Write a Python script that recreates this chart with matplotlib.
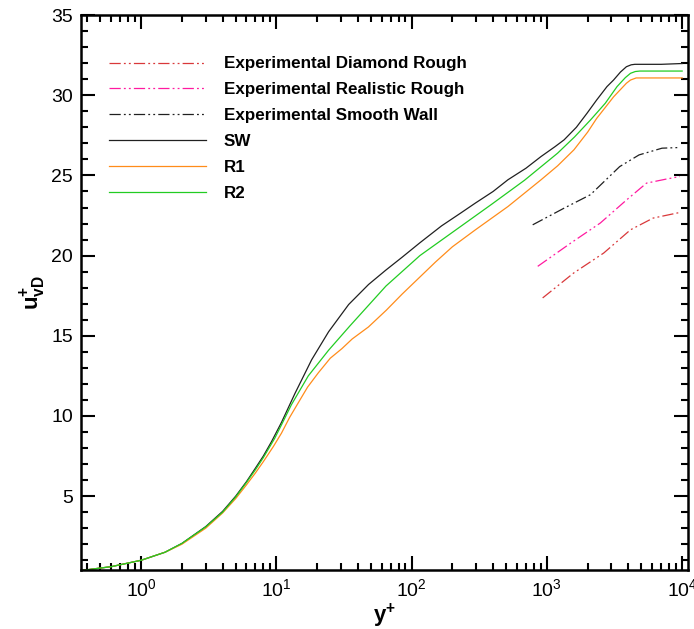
import matplotlib
matplotlib.use("Agg")
import matplotlib.pyplot as plt
from matplotlib.ticker import LogLocator, MultipleLocator

plt.rcParams['font.family'] = ['Liberation Sans', 'DejaVu Sans']
plt.rcParams['mathtext.fontset'] = 'custom'
plt.rcParams['mathtext.rm'] = 'Liberation Sans'
plt.rcParams['mathtext.bf'] = 'Liberation Sans:bold'

# DNS profiles (y+, u+_vD)
sw_y = [0.36, 0.6, 1.0, 1.5, 2.0, 3.0, 4.0, 5.0, 6.0, 7.0, 8.0, 9.2, 10.9, 13.7, 18.2, 24.3, 34.2, 48,
        64.5, 85, 115, 166, 230, 295, 400, 515, 700, 905, 1150, 1340, 1650, 1980, 2330, 2780, 3110,
        3500, 3870, 4200, 4470, 7000, 10000]
sw_u = [0.36, 0.6, 1.0, 1.5, 2.05, 3.1, 4.05, 5.0, 5.9, 6.75, 7.5, 8.4, 9.6, 11.4, 13.5, 15.25, 16.95, 18.2,
        19.1, 19.9, 20.8, 21.85, 22.65, 23.27, 24.0, 24.73, 25.45, 26.18, 26.8, 27.22, 28.0, 28.88, 29.7,
        30.54, 30.95, 31.45, 31.78, 31.9, 31.93, 31.93, 31.98]

r1_y = [0.36, 0.6, 1.0, 1.5, 2.0, 3.0, 4.0, 5.0, 6.0, 7.0, 8.0, 9.5, 10.9, 12.5, 14.5, 17, 20.4, 25,
        30.5, 36.3, 47.9, 65, 85, 150, 200, 295, 515, 905, 1200, 1585, 2000, 2330, 3110, 3870, 4150,
        4570, 10000]
r1_u = [0.36, 0.6, 1.0, 1.5, 2.0, 3.0, 3.95, 4.85, 5.7, 6.45, 7.15, 8.1, 8.93, 9.9, 10.82, 11.8, 12.69, 13.6,
        14.2, 14.8, 15.55, 16.6, 17.6, 19.6, 20.55, 21.6, 23.06, 24.73, 25.6, 26.6, 27.7, 28.55, 29.9,
        30.75, 30.95, 31.08, 31.08]

r2_y = [0.36, 0.6, 1.0, 1.5, 2.0, 3.0, 4.0, 5.0, 6.0, 7.0, 8.0, 9.7, 10.9, 12.9, 17.2, 24.3, 34.8, 64.5,
        115, 200, 390, 683, 1200, 1600, 2100, 2700, 3300, 3800, 4150, 4500, 4860, 10000]
r2_u = [0.36, 0.6, 1.0, 1.5, 2.05, 3.08, 4.0, 4.95, 5.85, 6.65, 7.4, 8.6, 9.45, 10.7, 12.5, 14.1, 15.6, 18.1,
        20.0, 21.45, 23.2, 24.7, 26.39, 27.4, 28.46, 29.5, 30.54, 31.1, 31.37, 31.48, 31.51, 31.51]

# experimental profiles
exp_dr_y = [930, 1580, 2630, 4150, 6100, 9600]
exp_dr_u = [17.36, 18.92, 20.16, 21.61, 22.34, 22.69]
exp_rr_y = [855, 1500, 2480, 3890, 5450, 7600, 9600]
exp_rr_u = [19.33, 20.78, 22.03, 23.48, 24.52, 24.77, 24.93]
exp_sw_y = [785, 1340, 2100, 3450, 4800, 7100, 9500]
exp_sw_u = [21.92, 22.96, 23.8, 25.55, 26.28, 26.7, 26.74]

dashdotdot = (0, (9, 2.5, 1.5, 2.5, 1.5, 2.5))

fig = plt.figure(figsize=(6.94, 6.29), dpi=100)
ax = fig.add_axes([0.117, 0.094, 0.874, 0.882])

ax.plot(exp_dr_y, exp_dr_u, color='#d9383a', lw=0.9, ls=dashdotdot, label='Experimental Diamond Rough')
ax.plot(exp_rr_y, exp_rr_u, color='#ff1aa0', lw=0.9, ls=dashdotdot, label='Experimental Realistic Rough')
ax.plot(exp_sw_y, exp_sw_u, color='#202020', lw=0.9, ls=dashdotdot, label='Experimental Smooth Wall')
ax.plot(sw_y, sw_u, color='#202020', lw=0.9, label='SW')
ax.plot(r1_y, r1_u, color='#ff8c1a', lw=0.9, label='R1')
ax.plot(r2_y, r2_u, color='#22cc22', lw=0.9, label='R2')

ax.set_xscale('log')
ax.set_xlim(0.36, 1.1e4)
ax.set_ylim(0.4, 35)
ax.yaxis.set_major_locator(MultipleLocator(5))
ax.yaxis.set_minor_locator(MultipleLocator(1))
ax.xaxis.set_major_locator(LogLocator(base=10, numticks=10))
ax.xaxis.set_minor_locator(LogLocator(base=10, subs=range(2, 10), numticks=20))
ax.set_yticks([5, 10, 15, 20, 25, 30, 35])

ax.tick_params(which='both', direction='in', top=True, right=True, labelsize=14, width=1.5)
ax.tick_params(which='major', length=10, pad=6)
ax.tick_params(which='minor', length=5)
for s in ax.spines.values():
    s.set_linewidth(1.8)

ax.set_xlabel(r'$\mathbf{y^{+}}$', fontsize=16, labelpad=1)
ax.set_ylabel(r'$\mathbf{u_{vD}^{+}}$', fontsize=16, labelpad=2)

ax.legend(loc='upper left', bbox_to_anchor=(0.02, 0.953), frameon=False,
          handlelength=5.7, handletextpad=1.06, labelspacing=0.64,
          prop={'weight': 'bold', 'size': 12.25})

fig.savefig('out.png', dpi=100)
